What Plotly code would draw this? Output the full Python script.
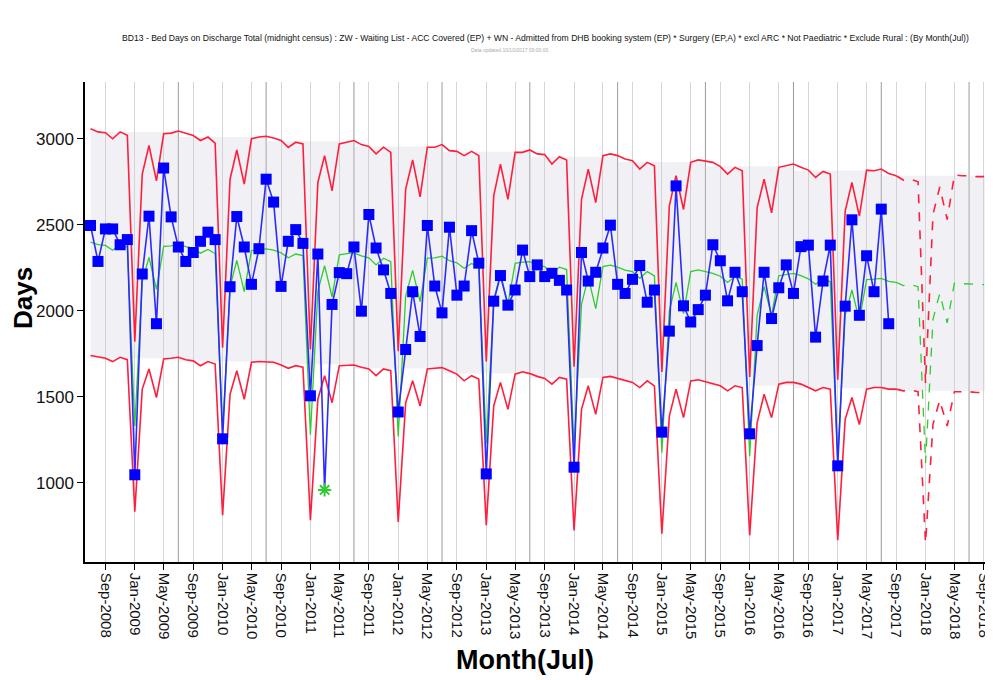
import plotly.graph_objects as go
import pandas as pd

# ---------------- data ----------------
start_month = "2008-07-01"

actual = [2496, 2287, 2476, 2476, 2384, 2414, 1047, 2214, 2550, 1925, 2830, 2546,
          2371, 2287, 2339, 2404, 2457, 2414, 1256, 2140, 2548, 2371, 2154, 2361,
          2765, 2632, 2142, 2404, 2472, 2392, 1506, 2330, 959, 2037, 2222, 2216,
          2371, 1998, 2560, 2365, 2238, 2101, 1412, 1775, 2111, 1851, 2496, 2144,
          1988, 2486, 2091, 2144, 2466, 2277, 1052, 2056, 2205, 2033, 2121, 2353,
          2199, 2267, 2199, 2218, 2177, 2121, 1091, 2339, 2173, 2224, 2365, 2498,
          2154, 2101, 2183, 2263, 2050, 2121, 1295, 1882, 2726, 2029, 1935, 2007,
          2091, 2384, 2291, 2058, 2224, 2111, 1285, 1798, 2224, 1955, 2134, 2267,
          2101, 2373, 2382, 1847, 2173, 2382, 1099, 2027, 2529, 1974, 2320, 2111,
          2591, 1925]

expected = [2399, 2385, 2380, 2352, 2385, 2368, 1330, 2170, 2311, 2125, 2374, 2378,
            2387, 2373, 2364, 2335, 2357, 2333, 1300, 2140, 2293, 2111, 2350, 2357,
            2360, 2353, 2337, 2308, 2330, 2321, 1280, 2116, 2262, 2081, 2325, 2332,
            2337, 2319, 2308, 2267, 2306, 2286, 1270, 2086, 2235, 2054, 2306, 2308,
            2318, 2291, 2279, 2247, 2275, 2252, 1230, 2057, 2218, 2037, 2276, 2283,
            2285, 2265, 2257, 2213, 2254, 2240, 1200, 2037, 2194, 2013, 2257, 2265,
            2254, 2237, 2228, 2189, 2228, 2203, 1175, 1999, 2165, 1984, 2228, 2238,
            2228, 2218, 2201, 2165, 2199, 2184, 1155, 1974, 2140, 1974, 2204, 2213,
            2218, 2204, 2186, 2155, 2182, 2170, 1135, 1974, 2121, 1944, 2181, 2184,
            2189, 2171, 2165]

upper = [3058, 3040, 3035, 3000, 3040, 3020, 1820, 2795, 2961, 2755, 3029, 3033,
         3045, 3030, 3019, 2990, 3010, 2975, 1785, 2765, 2935, 2736, 3000, 3010,
         3015, 3005, 2990, 2950, 2980, 2970, 1775, 2746, 2902, 2697, 2970, 2980,
         2990, 2966, 2955, 2912, 2951, 2921, 1765, 2707, 2877, 2662, 2951, 2951,
         2966, 2931, 2927, 2902, 2927, 2902, 1705, 2668, 2853, 2648, 2921, 2921,
         2935, 2912, 2908, 2853, 2896, 2877, 1675, 2648, 2824, 2629, 2902, 2912,
         2902, 2882, 2873, 2824, 2863, 2843, 1645, 2610, 2785, 2589, 2863, 2877,
         2869, 2863, 2838, 2795, 2834, 2814, 1615, 2599, 2765, 2570, 2834, 2843,
         2853, 2834, 2818, 2775, 2810, 2795, 1600, 2580, 2746, 2550, 2818, 2814,
         2824, 2798, 2785]

lower = [1740, 1730, 1724, 1705, 1730, 1716, 832, 1545, 1662, 1496, 1720, 1724,
         1730, 1716, 1709, 1681, 1705, 1691, 812, 1515, 1652, 1486, 1701, 1705,
         1705, 1701, 1685, 1666, 1681, 1672, 783, 1486, 1623, 1466, 1681, 1685,
         1685, 1672, 1662, 1623, 1662, 1652, 773, 1466, 1593, 1447, 1662, 1666,
         1670, 1652, 1632, 1593, 1623, 1603, 754, 1447, 1584, 1427, 1632, 1646,
         1635, 1619, 1607, 1574, 1613, 1603, 724, 1427, 1564, 1398, 1613, 1619,
         1607, 1593, 1584, 1554, 1593, 1564, 705, 1388, 1545, 1379, 1593, 1599,
         1588, 1574, 1564, 1535, 1564, 1554, 695, 1349, 1515, 1379, 1574, 1584,
         1584, 1574, 1554, 1535, 1554, 1545, 666, 1369, 1496, 1339, 1545, 1554,
         1554, 1545, 1545]

# forecast Sep-2017 .. Sep-2018
fc_start = "2017-09-01"
fc_expected = [2165, 2147, 2152, 2140, 1115, 1950, 2100, 1930, 2160, 2157, 2157, 2152, 2152]
fc_upper = [2785, 2760, 2765, 2750, 1580, 2560, 2720, 2530, 2790, 2785, 2785, 2780, 2780]
fc_lower = [1545, 1535, 1540, 1530, 650, 1340, 1480, 1330, 1530, 1530, 1530, 1525, 1525]

# shaded band per financial year (Jul-Jun), FY2008/09 .. FY2018/19
band_top = [3040, 3010, 2985, 2955, 2925, 2895, 2865, 2840, 2815, 2785, 2785]
band_bottom = [1725, 1705, 1690, 1665, 1635, 1610, 1590, 1565, 1550, 1535, 1535]

tick_labels = ["Sep-2008", "Jan-2009", "May-2009", "Sep-2009", "Jan-2010", "May-2010",
               "Sep-2010", "Jan-2011", "May-2011", "Sep-2011", "Jan-2012", "May-2012",
               "Sep-2012", "Jan-2013", "May-2013", "Sep-2013", "Jan-2014", "May-2014",
               "Sep-2014", "Jan-2015", "May-2015", "Sep-2015", "Jan-2016", "May-2016",
               "Sep-2016", "Jan-2017", "May-2017", "Sep-2017", "Jan-2018", "May-2018",
               "Sep-2018"]

title_text = ("BD13 - Bed Days on Discharge Total (midnight census) : ZW - Waiting List - ACC Covered (EP) "
              "+ WN - Admitted from DHB booking system (EP) * Surgery (EP,A) * excl ARC * Not Paediatric "
              "* Exclude Rural : (By Month(Jul))")
subtitle_text = "Data updated 10/10/2017 09:00:00"

# ---------------- build ----------------
x_act = pd.date_range(start_month, periods=len(actual), freq="MS")
x_lim = pd.date_range(start_month, periods=len(upper), freq="MS")
x_fc = pd.date_range(fc_start, periods=len(fc_upper), freq="MS")
x_band = pd.date_range(start_month, periods=125, freq="MS")
band_hi = [band_top[min(k // 12, len(band_top) - 1)] for k in range(len(x_band))]
band_lo = [band_bottom[min(k // 12, len(band_bottom) - 1)] for k in range(len(x_band))]
tick_vals = [pd.Timestamp(pd.to_datetime(t, format="%b-%Y")) for t in tick_labels]

fig = go.Figure()

fig.add_trace(go.Scatter(x=x_band, y=band_lo, mode="lines", line=dict(width=0, shape="hv"),
                         hoverinfo="skip", showlegend=False))
fig.add_trace(go.Scatter(x=x_band, y=band_hi, mode="lines", line=dict(width=0, shape="hv"),
                         fill="tonexty", fillcolor="rgba(205,205,220,0.28)",
                         hoverinfo="skip", showlegend=False))

red = "#ff1f3d"
green = "#2ecc2e"
fig.add_trace(go.Scatter(x=x_lim, y=upper, mode="lines", line=dict(color=red, width=1.6), showlegend=False))
fig.add_trace(go.Scatter(x=x_lim, y=lower, mode="lines", line=dict(color=red, width=1.6), showlegend=False))
fig.add_trace(go.Scatter(x=x_lim, y=expected, mode="lines", line=dict(color=green, width=1.3), showlegend=False))
fig.add_trace(go.Scatter(x=x_fc, y=fc_upper, mode="lines", line=dict(color=red, width=1.6, dash="dash"), showlegend=False))
fig.add_trace(go.Scatter(x=x_fc, y=fc_lower, mode="lines", line=dict(color=red, width=1.6, dash="dash"), showlegend=False))
fig.add_trace(go.Scatter(x=x_fc, y=fc_expected, mode="lines", line=dict(color=green, width=1.3, dash="dash"), showlegend=False))

out = [(a < lo or a > hi) for a, lo, hi in zip(actual, lower, upper)]
symbols = ["asterisk-open" if o else "square" for o in out]
mcolors = [green if o else "#0000ff" for o in out]
msizes = [11 for o in out]
lcolors = [green if o else "#0000ff" for o in out]
lwidths = [2 if o else 0 for o in out]
fig.add_trace(go.Scatter(x=x_act, y=actual, mode="lines+markers",
                         line=dict(color="#2b2bff", width=1.6),
                         marker=dict(symbol=symbols, color=mcolors, size=msizes, opacity=1,
                                     line=dict(color=lcolors, width=lwidths)),
                         showlegend=False))

# vertical grid lines: July each year darker
for yr in range(2009, 2019):
    fig.add_vline(x=pd.Timestamp(f"{yr}-07-01"), line=dict(color="#9a9a9a", width=1), layer="below")

# page body has an 8px margin, so the figure is sized/offset to compensate
fig.update_layout(
    width=985, height=672,
    margin=dict(l=77, r=3, t=74, b=118, autoexpand=False),
    paper_bgcolor="white", plot_bgcolor="white",
    font=dict(family="Liberation Sans, Arial, sans-serif", color="black"),
    showlegend=False,
)
fig.update_xaxes(
    range=[pd.Timestamp("2008-06-08"), pd.Timestamp("2018-09-26")],
    tickvals=tick_vals, ticktext=tick_labels, tickangle=90,
    tickfont=dict(size=15, color="#111"),
    ticklabeloverflow="allow", automargin=False,
    ticks="outside", ticklen=6, tickcolor="black",
    showline=True, linecolor="black", linewidth=1.5,
    showgrid=True, gridcolor="#d6d6d6", gridwidth=1, zeroline=False,
)
fig.update_yaxes(
    range=[540, 3330],
    tickvals=[1000, 1500, 2000, 2500, 3000],
    tickfont=dict(size=17, color="#111"),
    automargin=False,
    ticks="outside", ticklen=6, tickcolor="black",
    showline=True, linecolor="black", linewidth=1.5,
    showgrid=False, zeroline=False,
)

fig.add_annotation(text=title_text, xref="paper", yref="paper", x=0.509, y=1.0917,
                   showarrow=False, xanchor="center", yanchor="middle",
                   font=dict(size=8.6, color="#111"))
fig.add_annotation(text=subtitle_text, xref="paper", yref="paper", x=0.47, y=1.066,
                   showarrow=False, xanchor="center", yanchor="middle",
                   font=dict(size=5, color="#aaaaaa"))
fig.add_annotation(text="<b>Days</b>", xref="paper", yref="paper", x=-0.0685, y=0.55,
                   showarrow=False, textangle=-90, xanchor="center", yanchor="middle",
                   font=dict(size=26, color="black"))
fig.add_annotation(text="<b>Month(Jul)</b>", xref="paper", yref="paper", x=0.486, y=-0.205,
                   showarrow=False, xanchor="center", yanchor="middle",
                   font=dict(size=27, color="black"))

fig.write_html("out.html")
